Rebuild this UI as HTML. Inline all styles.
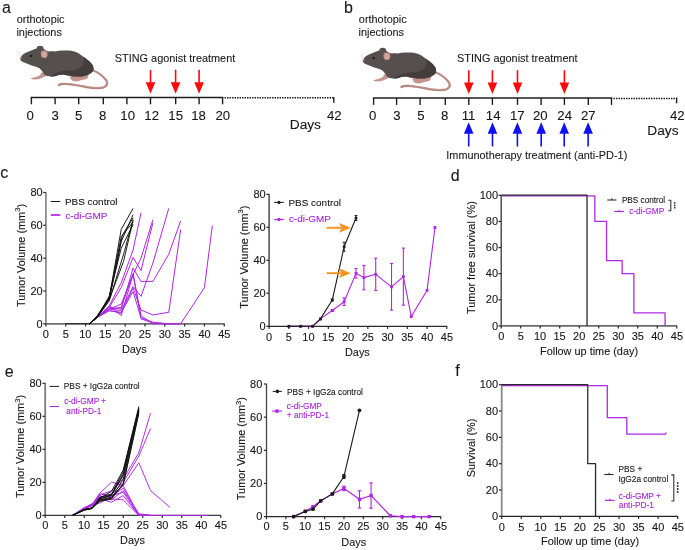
<!DOCTYPE html>
<html><head><meta charset="utf-8"><style>
html,body{margin:0;padding:0;background:#fff;}
body{width:685px;height:550px;overflow:hidden;}
svg{display:block;font-family:"Liberation Sans",sans-serif;will-change:transform;}
</style></head><body>
<svg width="685" height="550" viewBox="0 0 685 550">
<rect width="685" height="550" fill="#fff"/>
<text x="1.92" y="13.1" font-size="16" fill="#1a1a1a" stroke="#1a1a1a" stroke-width="0.1">a</text>
<text x="16.74" y="23" font-size="10.9" fill="#1a1a1a" stroke="#1a1a1a" stroke-width="0.1">orthotopic</text>
<text x="16.46" y="35.6" font-size="10.9" fill="#1a1a1a" stroke="#1a1a1a" stroke-width="0.1">injections</text>
<g transform="translate(0,0)">
<path d="M92.5,70.2 C98,72 103,76 106.4,80.5 C108,83.5 107,86.6 103,87.6 C98,88.5 92,88 85,86.8 C78,85.5 72,84.2 66,83.9 C62,83.8 60,84.2 58.8,85" fill="none" stroke="#b5857e" stroke-width="2.2" stroke-linecap="round"/>
<path d="M93,70.6 C98,72.4 102.6,76.2 105.9,80.6 C107.3,83.4 106.4,86.1 102.9,87.1 C98,87.9 92,87.5 85,86.3 C78,85 72,83.8 66,83.5" fill="none" stroke="#cd9f99" stroke-width="0.6"/>
<path d="M69.5,76.4 C73,76 78,75.8 84,75.6 C86,75.3 87.5,75 88.4,74.8 C88.7,76.5 88,78 86.5,79 C84,79.6 81,79.7 79,80.9 C77,81.6 75,81.5 73,80.9 C71.5,80.1 70,78.5 69.5,76.4 Z" fill="#c4938b"/>
<path d="M41.6,72 C43.5,73 45.2,74 46.8,75.2 C45,76.6 43,77.6 40.5,78.4 C37.5,79.4 34.5,79.9 31.3,79.1 C30.7,78.5 31.4,77.9 32.5,77.7 C35.5,77.2 38,76.4 39.8,75.2 C40.8,74.3 41.3,73.3 41.6,72 Z" fill="#c4938b"/>
<path d="M20.3,58 C21.5,55.5 24,53.5 27,52.3 C30,51 33.5,49.6 36.6,48.6 C36.6,46.8 38.2,45.7 40.2,45.8 C42.3,45.9 43.8,47 43.6,48.8 C45.5,50 47,51.2 48.5,51.6 C51,51.2 53,51.4 55,51.4 C58,50.8 60.5,50.5 63.5,50.6 C67,50.5 70,50.6 72.1,51 C75,51.6 77,52.4 78.9,53.5 C81,55 83,56.3 84.9,57.8 C87,59.5 89.5,61.2 90.9,62.9 C92.5,64.5 93.4,65.8 93.4,67.2 C93.8,68.5 93.6,69.6 93.4,70.6 C92.5,71.8 91.8,72.6 90.9,73.2 C89.8,74 88.7,74.5 87.5,74.9 C85,75.8 83,76.4 80.6,76.6 C77.5,76.6 75,76.4 72.1,76.2 C69,75.8 66,75 63.5,74.5 C60,74.6 57.5,75.4 55,76.2 C52,76.6 49,76.6 47,76 C45.5,75.6 44.5,74.8 43.8,73.8 C42.6,71.5 41.3,69.6 39.5,68.2 C37,67 35.5,66.5 33.5,66 C31,65.3 29.3,64.5 27.3,63.7 C25,62.8 23,62 21.5,61.3 C20.5,60.3 20,59.2 20.3,58 Z" fill="#55504d"/>
<path d="M84.2,57.2 C87,59.5 89.8,61.4 91.2,63.3 C92.8,65.2 93.6,67.8 93.4,70.6 C92.4,72.2 90,74 87.5,74.9 C84,76.2 80,76.6 76,76.4 C72,76.2 68,75.4 63.5,74.5 C60,74.6 57,75.5 55,76.2 L50.5,76.5 C52.5,74.5 55.5,73.2 59,72 C63,70.8 68,70.4 72.5,70.2 C76.5,69.6 79.8,68.4 81.8,66 C83.4,63.6 84.2,60.4 84.2,57.2 Z" fill="#433e3c"/>
<path d="M41.2,51.6 C42.5,50.2 45.5,50.2 47,51.5 C48,53 47.8,55.8 46.6,57.4 C45,58.3 42.6,58.2 41.5,57 C40.8,55.5 40.6,53.2 41.2,51.6 Z" fill="#c4938b"/>
<path d="M42.4,52.6 C43.5,51.8 45.5,52 46.2,53.1 C46.6,54.6 46.2,56.2 45.3,56.9 C44.2,57.3 43,57 42.5,56.2 Z" fill="#d2a7a1"/>
<circle cx="20.7" cy="58.1" r="1" fill="#d49790"/>
<ellipse cx="31" cy="56.1" rx="1.4" ry="1.1" fill="#1b1717"/>
<path d="M20.5,56.5 L17.5,51.5 M20.8,56.2 L19.5,50.8" stroke="#dddddd" stroke-width="0.5"/>
</g>
<text x="114.81" y="62.1" font-size="10.9" fill="#1a1a1a" stroke="#1a1a1a" stroke-width="0.1">STING agonist treatment</text>
<line x1="30.65" y1="97.4" x2="223.35" y2="97.4" stroke="#1e1e1e" stroke-width="1.5"/>
<line x1="31.4" y1="97.4" x2="31.4" y2="104.3" stroke="#1e1e1e" stroke-width="1.4"/>
<line x1="55.1" y1="97.4" x2="55.1" y2="104.3" stroke="#1e1e1e" stroke-width="1.4"/>
<line x1="78.7" y1="97.4" x2="78.7" y2="104.3" stroke="#1e1e1e" stroke-width="1.4"/>
<line x1="103.3" y1="97.4" x2="103.3" y2="104.3" stroke="#1e1e1e" stroke-width="1.4"/>
<line x1="126.9" y1="97.4" x2="126.9" y2="104.3" stroke="#1e1e1e" stroke-width="1.4"/>
<line x1="150.5" y1="97.4" x2="150.5" y2="104.3" stroke="#1e1e1e" stroke-width="1.4"/>
<line x1="175.7" y1="97.4" x2="175.7" y2="104.3" stroke="#1e1e1e" stroke-width="1.4"/>
<line x1="199.1" y1="97.4" x2="199.1" y2="104.3" stroke="#1e1e1e" stroke-width="1.4"/>
<line x1="222.6" y1="97.4" x2="222.6" y2="104.3" stroke="#1e1e1e" stroke-width="1.4"/>
<text x="26.52" y="119.6" font-size="13.2" fill="#161616" stroke="#161616" stroke-width="0.1">0</text>
<text x="51.47" y="119.6" font-size="13.2" fill="#161616" stroke="#161616" stroke-width="0.1">3</text>
<text x="75.04" y="119.6" font-size="13.2" fill="#161616" stroke="#161616" stroke-width="0.1">5</text>
<text x="99.04" y="119.6" font-size="13.2" fill="#161616" stroke="#161616" stroke-width="0.1">8</text>
<text x="120.33" y="119.6" font-size="13.2" fill="#161616" stroke="#161616" stroke-width="0.1">10</text>
<text x="144.31" y="119.6" font-size="13.2" fill="#161616" stroke="#161616" stroke-width="0.1">12</text>
<text x="168.34" y="119.6" font-size="13.2" fill="#161616" stroke="#161616" stroke-width="0.1">15</text>
<text x="191.16" y="119.6" font-size="13.2" fill="#161616" stroke="#161616" stroke-width="0.1">18</text>
<text x="215.49" y="119.6" font-size="13.2" fill="#161616" stroke="#161616" stroke-width="0.1">20</text>
<line x1="224.6" y1="97.8" x2="333.8" y2="97.8" stroke="#111" stroke-width="1.5" stroke-dasharray="1.4 1.1"/>
<line x1="333.8" y1="96.9" x2="333.8" y2="102.7" stroke="#1e1e1e" stroke-width="1.4"/>
<text x="326.9" y="119.7" font-size="13.2" fill="#161616" stroke="#161616" stroke-width="0.1">42</text>
<text x="289.77" y="129.4" font-size="13.7" fill="#161616" stroke="#161616" stroke-width="0.1">Days</text>
<line x1="150.5" y1="69.8" x2="150.5" y2="83.2" stroke="#ff0a0a" stroke-width="1.6"/>
<path d="M145.7,82.2 L155.3,82.2 L150.5,93.8 Z" fill="#ff0a0a"/>
<line x1="175.6" y1="69.8" x2="175.6" y2="83.2" stroke="#ff0a0a" stroke-width="1.6"/>
<path d="M170.8,82.2 L180.4,82.2 L175.6,93.8 Z" fill="#ff0a0a"/>
<line x1="199.1" y1="69.8" x2="199.1" y2="83.2" stroke="#ff0a0a" stroke-width="1.6"/>
<path d="M194.3,82.2 L203.9,82.2 L199.1,93.8 Z" fill="#ff0a0a"/>
<text x="344.06" y="13.1" font-size="16" fill="#1a1a1a" stroke="#1a1a1a" stroke-width="0.1">b</text>
<text x="358.84" y="23.4" font-size="10.9" fill="#1a1a1a" stroke="#1a1a1a" stroke-width="0.1">orthotopic</text>
<text x="358.56" y="35.8" font-size="10.9" fill="#1a1a1a" stroke="#1a1a1a" stroke-width="0.1">injections</text>
<g transform="translate(342.6,2)">
<path d="M92.5,70.2 C98,72 103,76 106.4,80.5 C108,83.5 107,86.6 103,87.6 C98,88.5 92,88 85,86.8 C78,85.5 72,84.2 66,83.9 C62,83.8 60,84.2 58.8,85" fill="none" stroke="#b5857e" stroke-width="2.2" stroke-linecap="round"/>
<path d="M93,70.6 C98,72.4 102.6,76.2 105.9,80.6 C107.3,83.4 106.4,86.1 102.9,87.1 C98,87.9 92,87.5 85,86.3 C78,85 72,83.8 66,83.5" fill="none" stroke="#cd9f99" stroke-width="0.6"/>
<path d="M69.5,76.4 C73,76 78,75.8 84,75.6 C86,75.3 87.5,75 88.4,74.8 C88.7,76.5 88,78 86.5,79 C84,79.6 81,79.7 79,80.9 C77,81.6 75,81.5 73,80.9 C71.5,80.1 70,78.5 69.5,76.4 Z" fill="#c4938b"/>
<path d="M41.6,72 C43.5,73 45.2,74 46.8,75.2 C45,76.6 43,77.6 40.5,78.4 C37.5,79.4 34.5,79.9 31.3,79.1 C30.7,78.5 31.4,77.9 32.5,77.7 C35.5,77.2 38,76.4 39.8,75.2 C40.8,74.3 41.3,73.3 41.6,72 Z" fill="#c4938b"/>
<path d="M20.3,58 C21.5,55.5 24,53.5 27,52.3 C30,51 33.5,49.6 36.6,48.6 C36.6,46.8 38.2,45.7 40.2,45.8 C42.3,45.9 43.8,47 43.6,48.8 C45.5,50 47,51.2 48.5,51.6 C51,51.2 53,51.4 55,51.4 C58,50.8 60.5,50.5 63.5,50.6 C67,50.5 70,50.6 72.1,51 C75,51.6 77,52.4 78.9,53.5 C81,55 83,56.3 84.9,57.8 C87,59.5 89.5,61.2 90.9,62.9 C92.5,64.5 93.4,65.8 93.4,67.2 C93.8,68.5 93.6,69.6 93.4,70.6 C92.5,71.8 91.8,72.6 90.9,73.2 C89.8,74 88.7,74.5 87.5,74.9 C85,75.8 83,76.4 80.6,76.6 C77.5,76.6 75,76.4 72.1,76.2 C69,75.8 66,75 63.5,74.5 C60,74.6 57.5,75.4 55,76.2 C52,76.6 49,76.6 47,76 C45.5,75.6 44.5,74.8 43.8,73.8 C42.6,71.5 41.3,69.6 39.5,68.2 C37,67 35.5,66.5 33.5,66 C31,65.3 29.3,64.5 27.3,63.7 C25,62.8 23,62 21.5,61.3 C20.5,60.3 20,59.2 20.3,58 Z" fill="#55504d"/>
<path d="M84.2,57.2 C87,59.5 89.8,61.4 91.2,63.3 C92.8,65.2 93.6,67.8 93.4,70.6 C92.4,72.2 90,74 87.5,74.9 C84,76.2 80,76.6 76,76.4 C72,76.2 68,75.4 63.5,74.5 C60,74.6 57,75.5 55,76.2 L50.5,76.5 C52.5,74.5 55.5,73.2 59,72 C63,70.8 68,70.4 72.5,70.2 C76.5,69.6 79.8,68.4 81.8,66 C83.4,63.6 84.2,60.4 84.2,57.2 Z" fill="#433e3c"/>
<path d="M41.2,51.6 C42.5,50.2 45.5,50.2 47,51.5 C48,53 47.8,55.8 46.6,57.4 C45,58.3 42.6,58.2 41.5,57 C40.8,55.5 40.6,53.2 41.2,51.6 Z" fill="#c4938b"/>
<path d="M42.4,52.6 C43.5,51.8 45.5,52 46.2,53.1 C46.6,54.6 46.2,56.2 45.3,56.9 C44.2,57.3 43,57 42.5,56.2 Z" fill="#d2a7a1"/>
<circle cx="20.7" cy="58.1" r="1" fill="#d49790"/>
<ellipse cx="31" cy="56.1" rx="1.4" ry="1.1" fill="#1b1717"/>
<path d="M20.5,56.5 L17.5,51.5 M20.8,56.2 L19.5,50.8" stroke="#dddddd" stroke-width="0.5"/>
</g>
<text x="457.11" y="61.8" font-size="10.9" fill="#1a1a1a" stroke="#1a1a1a" stroke-width="0.1">STING agonist treatment</text>
<line x1="372.85" y1="98" x2="612.25" y2="98" stroke="#1e1e1e" stroke-width="1.5"/>
<line x1="373.6" y1="98" x2="373.6" y2="104.9" stroke="#1e1e1e" stroke-width="1.4"/>
<line x1="396.6" y1="98" x2="396.6" y2="104.9" stroke="#1e1e1e" stroke-width="1.4"/>
<line x1="420.1" y1="98" x2="420.1" y2="104.9" stroke="#1e1e1e" stroke-width="1.4"/>
<line x1="445.3" y1="98" x2="445.3" y2="104.9" stroke="#1e1e1e" stroke-width="1.4"/>
<line x1="468.8" y1="98" x2="468.8" y2="104.9" stroke="#1e1e1e" stroke-width="1.4"/>
<line x1="492.4" y1="98" x2="492.4" y2="104.9" stroke="#1e1e1e" stroke-width="1.4"/>
<line x1="517.5" y1="98" x2="517.5" y2="104.9" stroke="#1e1e1e" stroke-width="1.4"/>
<line x1="541.1" y1="98" x2="541.1" y2="104.9" stroke="#1e1e1e" stroke-width="1.4"/>
<line x1="564.4" y1="98" x2="564.4" y2="104.9" stroke="#1e1e1e" stroke-width="1.4"/>
<line x1="588.3" y1="98" x2="588.3" y2="104.9" stroke="#1e1e1e" stroke-width="1.4"/>
<line x1="611.5" y1="98" x2="611.5" y2="104.9" stroke="#1e1e1e" stroke-width="1.4"/>
<text x="369.02" y="119.9" font-size="13.2" fill="#161616" stroke="#161616" stroke-width="0.1">0</text>
<text x="393.37" y="119.9" font-size="13.2" fill="#161616" stroke="#161616" stroke-width="0.1">3</text>
<text x="417.24" y="119.9" font-size="13.2" fill="#161616" stroke="#161616" stroke-width="0.1">5</text>
<text x="441.04" y="119.9" font-size="13.2" fill="#161616" stroke="#161616" stroke-width="0.1">8</text>
<text x="461.77" y="119.9" font-size="13.2" fill="#161616" stroke="#161616" stroke-width="0.1">11</text>
<text x="485.86" y="119.9" font-size="13.2" fill="#161616" stroke="#161616" stroke-width="0.1">14</text>
<text x="510.01" y="119.9" font-size="13.2" fill="#161616" stroke="#161616" stroke-width="0.1">17</text>
<text x="532.89" y="119.9" font-size="13.2" fill="#161616" stroke="#161616" stroke-width="0.1">20</text>
<text x="557.33" y="119.9" font-size="13.2" fill="#161616" stroke="#161616" stroke-width="0.1">24</text>
<text x="580.97" y="119.9" font-size="13.2" fill="#161616" stroke="#161616" stroke-width="0.1">27</text>
<line x1="613.5" y1="98.4" x2="676.6" y2="98.4" stroke="#111" stroke-width="1.5" stroke-dasharray="1.4 1.1"/>
<line x1="676.6" y1="97.5" x2="676.6" y2="103.3" stroke="#1e1e1e" stroke-width="1.4"/>
<text x="669.91" y="120.3" font-size="13.2" fill="#161616" stroke="#161616" stroke-width="0.1">42</text>
<text x="647.37" y="134.7" font-size="13.7" fill="#161616" stroke="#161616" stroke-width="0.1">Days</text>
<line x1="468.8" y1="70.2" x2="468.8" y2="83.4" stroke="#ff0a0a" stroke-width="1.6"/>
<path d="M464,82.4 L473.6,82.4 L468.8,94 Z" fill="#ff0a0a"/>
<line x1="492.4" y1="70.2" x2="492.4" y2="83.4" stroke="#ff0a0a" stroke-width="1.6"/>
<path d="M487.6,82.4 L497.2,82.4 L492.4,94 Z" fill="#ff0a0a"/>
<line x1="517.5" y1="70.2" x2="517.5" y2="83.4" stroke="#ff0a0a" stroke-width="1.6"/>
<path d="M512.7,82.4 L522.3,82.4 L517.5,94 Z" fill="#ff0a0a"/>
<line x1="564.4" y1="70.2" x2="564.4" y2="83.4" stroke="#ff0a0a" stroke-width="1.6"/>
<path d="M559.6,82.4 L569.2,82.4 L564.4,94 Z" fill="#ff0a0a"/>
<line x1="468.7" y1="132.8" x2="468.7" y2="146.5" stroke="#1010f0" stroke-width="1.6"/>
<path d="M463.9,133.8 L473.5,133.8 L468.7,122.2 Z" fill="#1010f0"/>
<line x1="492.5" y1="132.8" x2="492.5" y2="146.5" stroke="#1010f0" stroke-width="1.6"/>
<path d="M487.7,133.8 L497.3,133.8 L492.5,122.2 Z" fill="#1010f0"/>
<line x1="517.4" y1="132.8" x2="517.4" y2="146.5" stroke="#1010f0" stroke-width="1.6"/>
<path d="M512.6,133.8 L522.2,133.8 L517.4,122.2 Z" fill="#1010f0"/>
<line x1="541.2" y1="132.8" x2="541.2" y2="146.5" stroke="#1010f0" stroke-width="1.6"/>
<path d="M536.4,133.8 L546,133.8 L541.2,122.2 Z" fill="#1010f0"/>
<line x1="564.2" y1="132.8" x2="564.2" y2="146.5" stroke="#1010f0" stroke-width="1.6"/>
<path d="M559.4,133.8 L569,133.8 L564.2,122.2 Z" fill="#1010f0"/>
<line x1="588.1" y1="132.8" x2="588.1" y2="146.5" stroke="#1010f0" stroke-width="1.6"/>
<path d="M583.3,133.8 L592.9,133.8 L588.1,122.2 Z" fill="#1010f0"/>
<text x="446.29" y="159" font-size="10.9" fill="#1a1a1a" stroke="#1a1a1a" stroke-width="0.1">Immunotherapy treatment (anti-PD-1)</text>
<text x="0.22" y="178.3" font-size="16" fill="#1a1a1a" stroke="#1a1a1a" stroke-width="0.1">c</text>
<line x1="45.9" y1="192.14" x2="45.9" y2="324.4" stroke="#8c8c8c" stroke-width="1.8"/>
<line x1="45.3" y1="323.8" x2="224.54" y2="323.8" stroke="#707070" stroke-width="1.8"/>
<line x1="43.2" y1="323.8" x2="45.9" y2="323.8" stroke="#2a2a2a" stroke-width="1.2"/>
<text x="36.51" y="327.5" font-size="11" fill="#161616" stroke="#161616" stroke-width="0.1">0</text>
<line x1="43.2" y1="290.96" x2="45.9" y2="290.96" stroke="#2a2a2a" stroke-width="1.2"/>
<text x="30.4" y="294.66" font-size="11" fill="#161616" stroke="#161616" stroke-width="0.1">20</text>
<line x1="43.2" y1="258.12" x2="45.9" y2="258.12" stroke="#2a2a2a" stroke-width="1.2"/>
<text x="30.4" y="261.82" font-size="11" fill="#161616" stroke="#161616" stroke-width="0.1">40</text>
<line x1="43.2" y1="225.28" x2="45.9" y2="225.28" stroke="#2a2a2a" stroke-width="1.2"/>
<text x="30.4" y="228.98" font-size="11" fill="#161616" stroke="#161616" stroke-width="0.1">60</text>
<line x1="43.2" y1="192.44" x2="45.9" y2="192.44" stroke="#2a2a2a" stroke-width="1.2"/>
<text x="30.4" y="196.14" font-size="11" fill="#161616" stroke="#161616" stroke-width="0.1">80</text>
<line x1="45.9" y1="323.8" x2="45.9" y2="326.4" stroke="#2a2a2a" stroke-width="1.2"/>
<text x="42.83" y="338" font-size="11" fill="#161616" stroke="#161616" stroke-width="0.1">0</text>
<line x1="65.72" y1="323.8" x2="65.72" y2="326.4" stroke="#2a2a2a" stroke-width="1.2"/>
<text x="62.66" y="338" font-size="11" fill="#161616" stroke="#161616" stroke-width="0.1">5</text>
<line x1="85.53" y1="323.8" x2="85.53" y2="326.4" stroke="#2a2a2a" stroke-width="1.2"/>
<text x="79.22" y="338" font-size="11" fill="#161616" stroke="#161616" stroke-width="0.1">10</text>
<line x1="105.34" y1="323.8" x2="105.34" y2="326.4" stroke="#2a2a2a" stroke-width="1.2"/>
<text x="99.05" y="338" font-size="11" fill="#161616" stroke="#161616" stroke-width="0.1">15</text>
<line x1="125.16" y1="323.8" x2="125.16" y2="326.4" stroke="#2a2a2a" stroke-width="1.2"/>
<text x="118.99" y="338" font-size="11" fill="#161616" stroke="#161616" stroke-width="0.1">20</text>
<line x1="144.97" y1="323.8" x2="144.97" y2="326.4" stroke="#2a2a2a" stroke-width="1.2"/>
<text x="138.81" y="338" font-size="11" fill="#161616" stroke="#161616" stroke-width="0.1">25</text>
<line x1="164.79" y1="323.8" x2="164.79" y2="326.4" stroke="#2a2a2a" stroke-width="1.2"/>
<text x="158.69" y="338" font-size="11" fill="#161616" stroke="#161616" stroke-width="0.1">30</text>
<line x1="184.61" y1="323.8" x2="184.61" y2="326.4" stroke="#2a2a2a" stroke-width="1.2"/>
<text x="178.51" y="338" font-size="11" fill="#161616" stroke="#161616" stroke-width="0.1">35</text>
<line x1="204.42" y1="323.8" x2="204.42" y2="326.4" stroke="#2a2a2a" stroke-width="1.2"/>
<text x="198.4" y="338" font-size="11" fill="#161616" stroke="#161616" stroke-width="0.1">40</text>
<line x1="224.24" y1="323.8" x2="224.24" y2="326.4" stroke="#2a2a2a" stroke-width="1.2"/>
<text x="218.23" y="338" font-size="11" fill="#161616" stroke="#161616" stroke-width="0.1">45</text>
<line x1="65.72" y1="323.7" x2="89.49" y2="323.7" stroke="#222" stroke-width="1"/>
<polyline points="89.49,323.8 97.42,317.23 109.31,305.74 121.2,282.75 133.09,249.91 141.01,212.8" fill="none" stroke="#b026e6" stroke-width="1" stroke-linejoin="round"/>
<polyline points="89.49,323.8 97.42,317.23 109.31,309.02 121.2,304.1 133.09,274.54 141.01,258.12 152.9,219.7" fill="none" stroke="#b026e6" stroke-width="1" stroke-linejoin="round"/>
<polyline points="89.49,323.8 97.42,317.23 109.31,307.38 121.2,287.68 133.09,257.46 141.01,270.6 152.9,222.82" fill="none" stroke="#b026e6" stroke-width="1" stroke-linejoin="round"/>
<polyline points="89.49,323.8 97.42,317.23 109.31,309.02 121.2,310.66 133.09,286.53 141.01,296.38 152.9,263.05 168.75,208.37" fill="none" stroke="#b026e6" stroke-width="1" stroke-linejoin="round"/>
<polyline points="89.49,323.8 97.42,317.23 109.31,307.38 121.2,309.02 133.09,267.97 141.01,281.44 152.9,281.44 168.75,254.18 180.64,221.01" fill="none" stroke="#b026e6" stroke-width="1" stroke-linejoin="round"/>
<polyline points="89.49,323.8 97.42,317.23 109.31,310.66 121.2,313.13 133.09,288 141.01,310.01 152.9,314.93 168.75,312.31 180.64,229.55" fill="none" stroke="#b026e6" stroke-width="1" stroke-linejoin="round"/>
<polyline points="89.49,323.8 97.42,317.23 109.31,310.66 121.2,312.31 133.09,291.62 141.01,317.89 152.9,322.16 168.75,323.8 180.64,323.8 188.57,311.76 204.42,287.68 212.35,225.61" fill="none" stroke="#b026e6" stroke-width="1" stroke-linejoin="round"/>
<polyline points="89.49,323.8 97.42,317.23 109.31,309.02 121.2,307.38 133.09,273.72 141.01,315.59 152.9,323.8 168.75,323.8 180.64,323.8" fill="none" stroke="#b026e6" stroke-width="1" stroke-linejoin="round"/>
<polyline points="89.49,323.8 97.42,317.23 109.31,305.74 121.2,315.59 133.09,274.54 141.01,318.87 152.9,322.98 168.75,323.8" fill="none" stroke="#b026e6" stroke-width="1" stroke-linejoin="round"/>
<polyline points="89.49,323.8 97.42,317.23 109.31,297.53 121.2,229.39 133.09,208.37" fill="none" stroke="#111" stroke-width="0.95" stroke-linejoin="round"/>
<polyline points="89.49,323.8 97.42,316.41 109.31,299.17 121.2,241.7 133.09,214.61" fill="none" stroke="#111" stroke-width="0.95" stroke-linejoin="round"/>
<polyline points="89.49,323.8 97.42,317.23 109.31,300.81 124.37,251.55 133.09,219.53" fill="none" stroke="#111" stroke-width="0.95" stroke-linejoin="round"/>
<polyline points="89.49,323.8 97.42,315.59 109.31,297.53 121.2,236.77 133.09,222" fill="none" stroke="#111" stroke-width="0.95" stroke-linejoin="round"/>
<polyline points="89.49,323.8 97.42,316.41 109.31,299.17 123.57,261.4 133.09,220.35" fill="none" stroke="#111" stroke-width="0.95" stroke-linejoin="round"/>
<polyline points="89.49,323.8 97.42,317.23 109.31,295.89 121.2,248.27 133.09,224.46" fill="none" stroke="#111" stroke-width="0.95" stroke-linejoin="round"/>
<polyline points="89.49,323.8 97.42,315.59 109.31,298.35 122.39,235.13 133.09,217.89" fill="none" stroke="#111" stroke-width="0.95" stroke-linejoin="round"/>
<line x1="50.8" y1="201.5" x2="60.3" y2="201.5" stroke="#1a1a1a" stroke-width="1"/>
<text x="64.98" y="204.9" font-size="9.95" fill="#161616" stroke="#161616" stroke-width="0.1">PBS control</text>
<line x1="50.8" y1="215" x2="60.3" y2="215" stroke="#b026e6" stroke-width="1.7"/>
<text x="65.38" y="218.6" font-size="9.95" fill="#a61ee0" stroke="#a61ee0" stroke-width="0.1">c-di-GMP</text>
<text x="121.9" y="353.2" font-size="10.9" fill="#161616" stroke="#161616" stroke-width="0.1">Days</text>
<text transform="translate(24.6,255.5) rotate(-90)" font-size="10.9" fill="#161616" stroke="#161616" stroke-width="0.1" text-anchor="middle">Tumor Volume (mm<tspan font-size="7.63" dy="-4.36">3</tspan><tspan dy="4.36">)</tspan></text>
<line x1="269.1" y1="194" x2="269.1" y2="326.9" stroke="#3c3c3c" stroke-width="1.4"/>
<line x1="268.5" y1="326.3" x2="447.11" y2="326.3" stroke="#2a2a2a" stroke-width="1.3"/>
<line x1="266.4" y1="326.3" x2="269.1" y2="326.3" stroke="#2a2a2a" stroke-width="1.2"/>
<text x="259.61" y="330" font-size="11" fill="#161616" stroke="#161616" stroke-width="0.1">0</text>
<line x1="266.4" y1="293.3" x2="269.1" y2="293.3" stroke="#2a2a2a" stroke-width="1.2"/>
<text x="253.5" y="297" font-size="11" fill="#161616" stroke="#161616" stroke-width="0.1">20</text>
<line x1="266.4" y1="260.3" x2="269.1" y2="260.3" stroke="#2a2a2a" stroke-width="1.2"/>
<text x="253.5" y="264" font-size="11" fill="#161616" stroke="#161616" stroke-width="0.1">40</text>
<line x1="266.4" y1="227.3" x2="269.1" y2="227.3" stroke="#2a2a2a" stroke-width="1.2"/>
<text x="253.5" y="231" font-size="11" fill="#161616" stroke="#161616" stroke-width="0.1">60</text>
<line x1="266.4" y1="194.3" x2="269.1" y2="194.3" stroke="#2a2a2a" stroke-width="1.2"/>
<text x="253.5" y="198" font-size="11" fill="#161616" stroke="#161616" stroke-width="0.1">80</text>
<line x1="269.1" y1="326.3" x2="269.1" y2="328.9" stroke="#2a2a2a" stroke-width="1.2"/>
<text x="266.03" y="340.5" font-size="11" fill="#161616" stroke="#161616" stroke-width="0.1">0</text>
<line x1="288.85" y1="326.3" x2="288.85" y2="328.9" stroke="#2a2a2a" stroke-width="1.2"/>
<text x="285.79" y="340.5" font-size="11" fill="#161616" stroke="#161616" stroke-width="0.1">5</text>
<line x1="308.59" y1="326.3" x2="308.59" y2="328.9" stroke="#2a2a2a" stroke-width="1.2"/>
<text x="302.28" y="340.5" font-size="11" fill="#161616" stroke="#161616" stroke-width="0.1">10</text>
<line x1="328.34" y1="326.3" x2="328.34" y2="328.9" stroke="#2a2a2a" stroke-width="1.2"/>
<text x="322.04" y="340.5" font-size="11" fill="#161616" stroke="#161616" stroke-width="0.1">15</text>
<line x1="348.08" y1="326.3" x2="348.08" y2="328.9" stroke="#2a2a2a" stroke-width="1.2"/>
<text x="341.91" y="340.5" font-size="11" fill="#161616" stroke="#161616" stroke-width="0.1">20</text>
<line x1="367.83" y1="326.3" x2="367.83" y2="328.9" stroke="#2a2a2a" stroke-width="1.2"/>
<text x="361.67" y="340.5" font-size="11" fill="#161616" stroke="#161616" stroke-width="0.1">25</text>
<line x1="387.57" y1="326.3" x2="387.57" y2="328.9" stroke="#2a2a2a" stroke-width="1.2"/>
<text x="381.47" y="340.5" font-size="11" fill="#161616" stroke="#161616" stroke-width="0.1">30</text>
<line x1="407.32" y1="326.3" x2="407.32" y2="328.9" stroke="#2a2a2a" stroke-width="1.2"/>
<text x="401.22" y="340.5" font-size="11" fill="#161616" stroke="#161616" stroke-width="0.1">35</text>
<line x1="427.06" y1="326.3" x2="427.06" y2="328.9" stroke="#2a2a2a" stroke-width="1.2"/>
<text x="421.04" y="340.5" font-size="11" fill="#161616" stroke="#161616" stroke-width="0.1">40</text>
<line x1="446.81" y1="326.3" x2="446.81" y2="328.9" stroke="#2a2a2a" stroke-width="1.2"/>
<text x="440.8" y="340.5" font-size="11" fill="#161616" stroke="#161616" stroke-width="0.1">45</text>
<polyline points="288.85,326.3 300.69,326.3 312.54,326.3 320.44,318.88 332.28,310.46 344.13,301.72 355.98,273.34 363.88,277.62 375.72,274.33 391.52,286.87 403.37,276.63 411.26,316.56 427.06,290.33 434.96,227.47" fill="none" stroke="#b026e6" stroke-width="1.1" stroke-linejoin="round"/>
<rect x="287.45" y="324.9" width="2.8" height="2.8" fill="#b026e6"/>
<rect x="299.29" y="324.9" width="2.8" height="2.8" fill="#b026e6"/>
<rect x="311.14" y="324.9" width="2.8" height="2.8" fill="#b026e6"/>
<rect x="319.04" y="317.48" width="2.8" height="2.8" fill="#b026e6"/>
<line x1="332.28" y1="311.29" x2="332.28" y2="309.63" stroke="#b026e6" stroke-width="1.1"/>
<line x1="330.68" y1="311.29" x2="333.88" y2="311.29" stroke="#b026e6" stroke-width="1.1"/>
<line x1="330.68" y1="309.63" x2="333.88" y2="309.63" stroke="#b026e6" stroke-width="1.1"/>
<rect x="330.88" y="309.06" width="2.8" height="2.8" fill="#b026e6"/>
<line x1="344.13" y1="305.51" x2="344.13" y2="297.92" stroke="#b026e6" stroke-width="1.1"/>
<line x1="342.53" y1="305.51" x2="345.73" y2="305.51" stroke="#b026e6" stroke-width="1.1"/>
<line x1="342.53" y1="297.92" x2="345.73" y2="297.92" stroke="#b026e6" stroke-width="1.1"/>
<rect x="342.73" y="300.32" width="2.8" height="2.8" fill="#b026e6"/>
<line x1="355.98" y1="278.12" x2="355.98" y2="268.55" stroke="#b026e6" stroke-width="1.1"/>
<line x1="354.38" y1="278.12" x2="357.58" y2="278.12" stroke="#b026e6" stroke-width="1.1"/>
<line x1="354.38" y1="268.55" x2="357.58" y2="268.55" stroke="#b026e6" stroke-width="1.1"/>
<rect x="354.58" y="271.94" width="2.8" height="2.8" fill="#b026e6"/>
<line x1="363.88" y1="289.84" x2="363.88" y2="265.42" stroke="#b026e6" stroke-width="1.1"/>
<line x1="362.28" y1="289.84" x2="365.48" y2="289.84" stroke="#b026e6" stroke-width="1.1"/>
<line x1="362.28" y1="265.42" x2="365.48" y2="265.42" stroke="#b026e6" stroke-width="1.1"/>
<rect x="362.48" y="276.23" width="2.8" height="2.8" fill="#b026e6"/>
<line x1="375.72" y1="290.5" x2="375.72" y2="258.16" stroke="#b026e6" stroke-width="1.1"/>
<line x1="374.12" y1="290.5" x2="377.32" y2="290.5" stroke="#b026e6" stroke-width="1.1"/>
<line x1="374.12" y1="258.16" x2="377.32" y2="258.16" stroke="#b026e6" stroke-width="1.1"/>
<rect x="374.32" y="272.93" width="2.8" height="2.8" fill="#b026e6"/>
<line x1="391.52" y1="310.13" x2="391.52" y2="263.6" stroke="#b026e6" stroke-width="1.1"/>
<line x1="389.92" y1="310.13" x2="393.12" y2="310.13" stroke="#b026e6" stroke-width="1.1"/>
<line x1="389.92" y1="263.6" x2="393.12" y2="263.6" stroke="#b026e6" stroke-width="1.1"/>
<rect x="390.12" y="285.47" width="2.8" height="2.8" fill="#b026e6"/>
<line x1="403.37" y1="305.18" x2="403.37" y2="248.09" stroke="#b026e6" stroke-width="1.1"/>
<line x1="401.77" y1="305.18" x2="404.97" y2="305.18" stroke="#b026e6" stroke-width="1.1"/>
<line x1="401.77" y1="248.09" x2="404.97" y2="248.09" stroke="#b026e6" stroke-width="1.1"/>
<rect x="401.97" y="275.24" width="2.8" height="2.8" fill="#b026e6"/>
<rect x="409.86" y="315.17" width="2.8" height="2.8" fill="#b026e6"/>
<rect x="425.66" y="288.93" width="2.8" height="2.8" fill="#b026e6"/>
<rect x="433.56" y="226.07" width="2.8" height="2.8" fill="#b026e6"/>
<polyline points="288.85,326.3 300.69,326.3 312.54,326.3 320.44,318.88 332.28,300.06 344.13,246.77 355.98,218.06" fill="none" stroke="#1a1a1a" stroke-width="1.1" stroke-linejoin="round"/>
<circle cx="288.85" cy="326.3" r="1.5" fill="#1a1a1a"/>
<circle cx="300.69" cy="326.3" r="1.5" fill="#1a1a1a"/>
<circle cx="312.54" cy="326.3" r="1.5" fill="#1a1a1a"/>
<circle cx="320.44" cy="318.88" r="1.5" fill="#1a1a1a"/>
<line x1="332.28" y1="301.06" x2="332.28" y2="299.07" stroke="#1a1a1a" stroke-width="1"/>
<line x1="330.88" y1="301.06" x2="333.68" y2="301.06" stroke="#1a1a1a" stroke-width="1"/>
<line x1="330.88" y1="299.07" x2="333.68" y2="299.07" stroke="#1a1a1a" stroke-width="1"/>
<circle cx="332.28" cy="300.06" r="1.5" fill="#1a1a1a"/>
<line x1="344.13" y1="251.23" x2="344.13" y2="242.31" stroke="#1a1a1a" stroke-width="1"/>
<line x1="342.73" y1="251.23" x2="345.53" y2="251.23" stroke="#1a1a1a" stroke-width="1"/>
<line x1="342.73" y1="242.31" x2="345.53" y2="242.31" stroke="#1a1a1a" stroke-width="1"/>
<circle cx="344.13" cy="246.77" r="1.5" fill="#1a1a1a"/>
<line x1="355.98" y1="220.54" x2="355.98" y2="215.59" stroke="#1a1a1a" stroke-width="1"/>
<line x1="354.58" y1="220.54" x2="357.38" y2="220.54" stroke="#1a1a1a" stroke-width="1"/>
<line x1="354.58" y1="215.59" x2="357.38" y2="215.59" stroke="#1a1a1a" stroke-width="1"/>
<circle cx="355.98" cy="218.06" r="1.5" fill="#1a1a1a"/>
<line x1="274.1" y1="202.4" x2="283.8" y2="202.4" stroke="#1a1a1a" stroke-width="1"/>
<circle cx="279" cy="202.4" r="1.6" fill="#1a1a1a"/>
<text x="288.48" y="205.8" font-size="9.95" fill="#161616" stroke="#161616" stroke-width="0.1">PBS control</text>
<line x1="274.1" y1="219.5" x2="283.8" y2="219.5" stroke="#b026e6" stroke-width="1.2"/>
<circle cx="279" cy="219.5" r="1.7" fill="#b026e6"/>
<text x="288.88" y="222.1" font-size="9.95" fill="#a61ee0" stroke="#a61ee0" stroke-width="0.1">c-di-GMP</text>
<text x="345" y="356" font-size="10.9" fill="#161616" stroke="#161616" stroke-width="0.1">Days</text>
<text transform="translate(247.5,257.1) rotate(-90)" font-size="10.9" fill="#161616" stroke="#161616" stroke-width="0.1" text-anchor="middle">Tumor Volume (mm<tspan font-size="7.63" dy="-4.36">3</tspan><tspan dy="4.36">)</tspan></text>
<line x1="326.6" y1="227.8" x2="341" y2="227.8" stroke="#f7931e" stroke-width="1.9"/>
<path d="M339,222.9 L350.8,227.8 L339,232.7 L341.5,227.8 Z" fill="#f7931e"/>
<line x1="326.6" y1="273.2" x2="341" y2="273.2" stroke="#f7931e" stroke-width="1.9"/>
<path d="M339,268.3 L350.8,273.2 L339,278.1 L341.5,273.2 Z" fill="#f7931e"/>
<text x="450.82" y="180.8" font-size="16" fill="#1a1a1a" stroke="#1a1a1a" stroke-width="0.1">d</text>
<line x1="501.2" y1="195" x2="501.2" y2="326.5" stroke="#444" stroke-width="1.4"/>
<line x1="500.6" y1="325.9" x2="677.09" y2="325.9" stroke="#6a6a6a" stroke-width="1.8"/>
<line x1="498.5" y1="325.9" x2="501.2" y2="325.9" stroke="#2a2a2a" stroke-width="1.2"/>
<text x="491.91" y="329.6" font-size="11" fill="#161616" stroke="#161616" stroke-width="0.1">0</text>
<line x1="498.5" y1="299.78" x2="501.2" y2="299.78" stroke="#2a2a2a" stroke-width="1.2"/>
<text x="485.8" y="303.48" font-size="11" fill="#161616" stroke="#161616" stroke-width="0.1">20</text>
<line x1="498.5" y1="273.66" x2="501.2" y2="273.66" stroke="#2a2a2a" stroke-width="1.2"/>
<text x="485.8" y="277.36" font-size="11" fill="#161616" stroke="#161616" stroke-width="0.1">40</text>
<line x1="498.5" y1="247.54" x2="501.2" y2="247.54" stroke="#2a2a2a" stroke-width="1.2"/>
<text x="485.8" y="251.24" font-size="11" fill="#161616" stroke="#161616" stroke-width="0.1">60</text>
<line x1="498.5" y1="221.42" x2="501.2" y2="221.42" stroke="#2a2a2a" stroke-width="1.2"/>
<text x="485.8" y="225.12" font-size="11" fill="#161616" stroke="#161616" stroke-width="0.1">80</text>
<line x1="498.5" y1="195.3" x2="501.2" y2="195.3" stroke="#2a2a2a" stroke-width="1.2"/>
<text x="479.67" y="199" font-size="11" fill="#161616" stroke="#161616" stroke-width="0.1">100</text>
<line x1="501.2" y1="325.9" x2="501.2" y2="328.5" stroke="#2a2a2a" stroke-width="1.2"/>
<text x="498.13" y="339.9" font-size="11" fill="#161616" stroke="#161616" stroke-width="0.1">0</text>
<line x1="520.71" y1="325.9" x2="520.71" y2="328.5" stroke="#2a2a2a" stroke-width="1.2"/>
<text x="517.66" y="339.9" font-size="11" fill="#161616" stroke="#161616" stroke-width="0.1">5</text>
<line x1="540.22" y1="325.9" x2="540.22" y2="328.5" stroke="#2a2a2a" stroke-width="1.2"/>
<text x="533.91" y="339.9" font-size="11" fill="#161616" stroke="#161616" stroke-width="0.1">10</text>
<line x1="559.73" y1="325.9" x2="559.73" y2="328.5" stroke="#2a2a2a" stroke-width="1.2"/>
<text x="553.43" y="339.9" font-size="11" fill="#161616" stroke="#161616" stroke-width="0.1">15</text>
<line x1="579.24" y1="325.9" x2="579.24" y2="328.5" stroke="#2a2a2a" stroke-width="1.2"/>
<text x="573.07" y="339.9" font-size="11" fill="#161616" stroke="#161616" stroke-width="0.1">20</text>
<line x1="598.75" y1="325.9" x2="598.75" y2="328.5" stroke="#2a2a2a" stroke-width="1.2"/>
<text x="592.59" y="339.9" font-size="11" fill="#161616" stroke="#161616" stroke-width="0.1">25</text>
<line x1="618.26" y1="325.9" x2="618.26" y2="328.5" stroke="#2a2a2a" stroke-width="1.2"/>
<text x="612.15" y="339.9" font-size="11" fill="#161616" stroke="#161616" stroke-width="0.1">30</text>
<line x1="637.77" y1="325.9" x2="637.77" y2="328.5" stroke="#2a2a2a" stroke-width="1.2"/>
<text x="631.68" y="339.9" font-size="11" fill="#161616" stroke="#161616" stroke-width="0.1">35</text>
<line x1="657.28" y1="325.9" x2="657.28" y2="328.5" stroke="#2a2a2a" stroke-width="1.2"/>
<text x="651.26" y="339.9" font-size="11" fill="#161616" stroke="#161616" stroke-width="0.1">40</text>
<line x1="676.79" y1="325.9" x2="676.79" y2="328.5" stroke="#2a2a2a" stroke-width="1.2"/>
<text x="670.78" y="339.9" font-size="11" fill="#161616" stroke="#161616" stroke-width="0.1">45</text>
<polyline points="501.2,195.9 594.85,195.9 594.85,221.42 606.55,221.42 606.55,260.6 622.16,260.6 622.16,273.66 633.87,273.66 633.87,312.84 665.08,312.84 665.08,325.9" fill="none" stroke="#b026e6" stroke-width="1.3" stroke-linejoin="round" stroke-linejoin="miter"/>
<polyline points="501.2,195.2 587.04,195.2 587.04,325.9" fill="none" stroke="#2a2a2a" stroke-width="1.3" stroke-linejoin="round" stroke-linejoin="miter"/>
<line x1="607.3" y1="200" x2="616.4" y2="200" stroke="#2a2a2a" stroke-width="1.1"/>
<line x1="611.8" y1="198.3" x2="611.8" y2="200" stroke="#2a2a2a" stroke-width="1"/>
<text x="621.92" y="203.2" font-size="8.2" fill="#161616" stroke="#161616" stroke-width="0.1">PBS control</text>
<line x1="614.3" y1="211.5" x2="624" y2="211.5" stroke="#b026e6" stroke-width="1.2"/>
<line x1="619.1" y1="209.8" x2="619.1" y2="211.5" stroke="#b026e6" stroke-width="1"/>
<text x="629.15" y="214.3" font-size="8.3" fill="#a61ee0" stroke="#a61ee0" stroke-width="0.1">c-di-GMP</text>
<polyline points="668.3,200.2 670.8,200.2 670.8,210.8 668.3,210.8" fill="none" stroke="#333" stroke-width="1.1" stroke-linejoin="round" stroke-linejoin="miter"/>
<ellipse cx="674.7" cy="202.9" rx="0.8" ry="0.9" fill="#222"/>
<ellipse cx="674.7" cy="205.3" rx="0.8" ry="0.9" fill="#222"/>
<ellipse cx="674.7" cy="207.7" rx="0.8" ry="0.9" fill="#222"/>
<text x="540" y="355" font-size="10.9" fill="#161616" stroke="#161616" stroke-width="0.1">Follow up time (day)</text>
<text transform="translate(474.6,257.6) rotate(-90)" font-size="10.9" fill="#161616" stroke="#161616" stroke-width="0.1" text-anchor="middle">Tumor free survival (%)</text>
<text x="4.82" y="376.6" font-size="16" fill="#1a1a1a" stroke="#1a1a1a" stroke-width="0.1">e</text>
<line x1="45.2" y1="383.02" x2="45.2" y2="516" stroke="#7c7c7c" stroke-width="1.8"/>
<line x1="44.6" y1="515.4" x2="221.09" y2="515.4" stroke="#3a3a3a" stroke-width="1.3"/>
<line x1="42.5" y1="515.4" x2="45.2" y2="515.4" stroke="#2a2a2a" stroke-width="1.2"/>
<text x="35.61" y="519.1" font-size="11" fill="#161616" stroke="#161616" stroke-width="0.1">0</text>
<line x1="42.5" y1="482.38" x2="45.2" y2="482.38" stroke="#2a2a2a" stroke-width="1.2"/>
<text x="29.5" y="486.08" font-size="11" fill="#161616" stroke="#161616" stroke-width="0.1">20</text>
<line x1="42.5" y1="449.36" x2="45.2" y2="449.36" stroke="#2a2a2a" stroke-width="1.2"/>
<text x="29.5" y="453.06" font-size="11" fill="#161616" stroke="#161616" stroke-width="0.1">40</text>
<line x1="42.5" y1="416.34" x2="45.2" y2="416.34" stroke="#2a2a2a" stroke-width="1.2"/>
<text x="29.5" y="420.04" font-size="11" fill="#161616" stroke="#161616" stroke-width="0.1">60</text>
<line x1="42.5" y1="383.32" x2="45.2" y2="383.32" stroke="#2a2a2a" stroke-width="1.2"/>
<text x="29.5" y="387.02" font-size="11" fill="#161616" stroke="#161616" stroke-width="0.1">80</text>
<line x1="45.2" y1="515.4" x2="45.2" y2="518" stroke="#2a2a2a" stroke-width="1.2"/>
<text x="42.13" y="529.3" font-size="11" fill="#161616" stroke="#161616" stroke-width="0.1">0</text>
<line x1="64.71" y1="515.4" x2="64.71" y2="518" stroke="#2a2a2a" stroke-width="1.2"/>
<text x="61.66" y="529.3" font-size="11" fill="#161616" stroke="#161616" stroke-width="0.1">5</text>
<line x1="84.22" y1="515.4" x2="84.22" y2="518" stroke="#2a2a2a" stroke-width="1.2"/>
<text x="77.91" y="529.3" font-size="11" fill="#161616" stroke="#161616" stroke-width="0.1">10</text>
<line x1="103.73" y1="515.4" x2="103.73" y2="518" stroke="#2a2a2a" stroke-width="1.2"/>
<text x="97.43" y="529.3" font-size="11" fill="#161616" stroke="#161616" stroke-width="0.1">15</text>
<line x1="123.24" y1="515.4" x2="123.24" y2="518" stroke="#2a2a2a" stroke-width="1.2"/>
<text x="117.07" y="529.3" font-size="11" fill="#161616" stroke="#161616" stroke-width="0.1">20</text>
<line x1="142.75" y1="515.4" x2="142.75" y2="518" stroke="#2a2a2a" stroke-width="1.2"/>
<text x="136.59" y="529.3" font-size="11" fill="#161616" stroke="#161616" stroke-width="0.1">25</text>
<line x1="162.26" y1="515.4" x2="162.26" y2="518" stroke="#2a2a2a" stroke-width="1.2"/>
<text x="156.16" y="529.3" font-size="11" fill="#161616" stroke="#161616" stroke-width="0.1">30</text>
<line x1="181.77" y1="515.4" x2="181.77" y2="518" stroke="#2a2a2a" stroke-width="1.2"/>
<text x="175.68" y="529.3" font-size="11" fill="#161616" stroke="#161616" stroke-width="0.1">35</text>
<line x1="201.28" y1="515.4" x2="201.28" y2="518" stroke="#2a2a2a" stroke-width="1.2"/>
<text x="195.26" y="529.3" font-size="11" fill="#161616" stroke="#161616" stroke-width="0.1">40</text>
<line x1="220.79" y1="515.4" x2="220.79" y2="518" stroke="#2a2a2a" stroke-width="1.2"/>
<text x="214.78" y="529.3" font-size="11" fill="#161616" stroke="#161616" stroke-width="0.1">45</text>
<polyline points="72.51,515.4 84.22,508.47 92.02,504.67 99.83,493.11 111.53,482.05 123.24,485.68 138.85,515.4 150.55,515.4 170.06,515.4 181.77,515.4 193.48,515.4 209.08,515.4" fill="none" stroke="#b026e6" stroke-width="0.95" stroke-linejoin="round"/>
<polyline points="72.51,515.4 84.22,508.8 92.02,505.49 99.83,494.93 111.53,490.8 123.24,479.08 138.85,452.66 150.55,413.04" fill="none" stroke="#b026e6" stroke-width="0.95" stroke-linejoin="round"/>
<polyline points="72.51,515.4 84.22,507.97 92.02,503.84 99.83,497.57 111.53,494.43 123.24,482.38 138.85,455.96 150.55,428.56" fill="none" stroke="#b026e6" stroke-width="0.95" stroke-linejoin="round"/>
<polyline points="72.51,515.4 84.22,508.8 92.02,505.49 99.83,503.02 111.53,496.25 123.24,485.68 138.85,462.73 150.55,490.63 170.06,507.48" fill="none" stroke="#b026e6" stroke-width="0.95" stroke-linejoin="round"/>
<polyline points="72.51,515.4 84.22,508.96 92.02,504.67 99.83,495.59 111.53,499.88 123.24,490.63 138.85,513.75 150.55,515.4" fill="none" stroke="#b026e6" stroke-width="0.95" stroke-linejoin="round"/>
<polyline points="72.51,515.4 84.22,508.3 92.02,505.49 99.83,498.89 111.53,502.19 123.24,495.59 138.85,515.4 150.55,515.4" fill="none" stroke="#b026e6" stroke-width="0.95" stroke-linejoin="round"/>
<polyline points="72.51,515.4 84.22,508.63 92.02,503.84 99.83,497.24 111.53,496.25 123.24,488.16 138.85,514.57 150.55,515.4" fill="none" stroke="#b026e6" stroke-width="0.95" stroke-linejoin="round"/>
<polyline points="72.51,515.4 84.22,507.64 92.02,504.67 99.83,493.94 111.53,495.59 123.24,492.29 138.85,515.4 150.55,515.4" fill="none" stroke="#b026e6" stroke-width="0.95" stroke-linejoin="round"/>
<polyline points="72.51,515.4 84.22,508.8 92.02,505.49 99.83,500.54 111.53,498.89 123.24,499.88 138.85,515.4 150.55,515.4" fill="none" stroke="#b026e6" stroke-width="0.95" stroke-linejoin="round"/>
<polyline points="72.51,515.4 84.22,509.95 92.02,508.3 99.83,498.06 111.53,491.3 123.24,470 138.85,406.43" fill="none" stroke="#111" stroke-width="0.95" stroke-linejoin="round"/>
<polyline points="72.51,515.4 84.22,509.62 92.02,507.97 99.83,498.89 111.53,495.42 123.24,474.12 138.85,408.91" fill="none" stroke="#111" stroke-width="0.95" stroke-linejoin="round"/>
<polyline points="72.51,515.4 84.22,510.12 92.02,508.63 99.83,500.54 111.53,498.23 123.24,479.08 138.85,410.56" fill="none" stroke="#111" stroke-width="0.95" stroke-linejoin="round"/>
<polyline points="72.51,515.4 84.22,509.79 92.02,507.81 99.83,501.37 111.53,499.06 123.24,483.54 138.85,412.21" fill="none" stroke="#111" stroke-width="0.95" stroke-linejoin="round"/>
<polyline points="72.51,515.4 84.22,509.95 92.02,508.14 99.83,499.72 111.53,497.24 123.24,484.86 138.85,413.04" fill="none" stroke="#111" stroke-width="0.95" stroke-linejoin="round"/>
<polyline points="72.51,515.4 84.22,509.46 92.02,508.47 99.83,497.24 111.53,493.94 123.24,471.65 138.85,408.08" fill="none" stroke="#111" stroke-width="0.95" stroke-linejoin="round"/>
<polyline points="72.51,515.4 84.22,509.79 92.02,507.97 99.83,498.89 111.53,494.76 123.24,475.78 138.85,410.56" fill="none" stroke="#111" stroke-width="0.95" stroke-linejoin="round"/>
<line x1="49.5" y1="386.4" x2="59" y2="386.4" stroke="#1a1a1a" stroke-width="1"/>
<text x="63.82" y="389.2" font-size="8.3" fill="#161616" stroke="#161616" stroke-width="0.1">PBS + IgG2a control</text>
<line x1="49.5" y1="406.5" x2="59" y2="406.5" stroke="#b026e6" stroke-width="1"/>
<text x="64.15" y="404.2" font-size="8.3" fill="#a61ee0" stroke="#a61ee0" stroke-width="0.1">c-di-GMP +</text>
<text x="66.35" y="413.7" font-size="8.3" fill="#a61ee0" stroke="#a61ee0" stroke-width="0.1">anti-PD-1</text>
<text x="120.1" y="544.3" font-size="10.9" fill="#161616" stroke="#161616" stroke-width="0.1">Days</text>
<text transform="translate(24.1,446.5) rotate(-90)" font-size="10.9" fill="#161616" stroke="#161616" stroke-width="0.1" text-anchor="middle">Tumor Volume (mm<tspan font-size="7.63" dy="-4.36">3</tspan><tspan dy="4.36">)</tspan></text>
<line x1="266.5" y1="383.7" x2="266.5" y2="517.2" stroke="#444" stroke-width="1.3"/>
<line x1="265.9" y1="516.6" x2="441.08" y2="516.6" stroke="#2a2a2a" stroke-width="1.3"/>
<line x1="263.8" y1="516.6" x2="266.5" y2="516.6" stroke="#2a2a2a" stroke-width="1.2"/>
<text x="256.21" y="520.3" font-size="11" fill="#161616" stroke="#161616" stroke-width="0.1">0</text>
<line x1="263.8" y1="483.45" x2="266.5" y2="483.45" stroke="#2a2a2a" stroke-width="1.2"/>
<text x="250.1" y="487.15" font-size="11" fill="#161616" stroke="#161616" stroke-width="0.1">20</text>
<line x1="263.8" y1="450.3" x2="266.5" y2="450.3" stroke="#2a2a2a" stroke-width="1.2"/>
<text x="250.1" y="454" font-size="11" fill="#161616" stroke="#161616" stroke-width="0.1">40</text>
<line x1="263.8" y1="417.15" x2="266.5" y2="417.15" stroke="#2a2a2a" stroke-width="1.2"/>
<text x="250.1" y="420.85" font-size="11" fill="#161616" stroke="#161616" stroke-width="0.1">60</text>
<line x1="263.8" y1="384" x2="266.5" y2="384" stroke="#2a2a2a" stroke-width="1.2"/>
<text x="250.1" y="387.7" font-size="11" fill="#161616" stroke="#161616" stroke-width="0.1">80</text>
<line x1="266.5" y1="516.6" x2="266.5" y2="519.2" stroke="#2a2a2a" stroke-width="1.2"/>
<text x="263.43" y="530.4" font-size="11" fill="#161616" stroke="#161616" stroke-width="0.1">0</text>
<line x1="285.87" y1="516.6" x2="285.87" y2="519.2" stroke="#2a2a2a" stroke-width="1.2"/>
<text x="282.81" y="530.4" font-size="11" fill="#161616" stroke="#161616" stroke-width="0.1">5</text>
<line x1="305.23" y1="516.6" x2="305.23" y2="519.2" stroke="#2a2a2a" stroke-width="1.2"/>
<text x="298.92" y="530.4" font-size="11" fill="#161616" stroke="#161616" stroke-width="0.1">10</text>
<line x1="324.6" y1="516.6" x2="324.6" y2="519.2" stroke="#2a2a2a" stroke-width="1.2"/>
<text x="318.3" y="530.4" font-size="11" fill="#161616" stroke="#161616" stroke-width="0.1">15</text>
<line x1="343.96" y1="516.6" x2="343.96" y2="519.2" stroke="#2a2a2a" stroke-width="1.2"/>
<text x="337.79" y="530.4" font-size="11" fill="#161616" stroke="#161616" stroke-width="0.1">20</text>
<line x1="363.32" y1="516.6" x2="363.32" y2="519.2" stroke="#2a2a2a" stroke-width="1.2"/>
<text x="357.16" y="530.4" font-size="11" fill="#161616" stroke="#161616" stroke-width="0.1">25</text>
<line x1="382.69" y1="516.6" x2="382.69" y2="519.2" stroke="#2a2a2a" stroke-width="1.2"/>
<text x="376.58" y="530.4" font-size="11" fill="#161616" stroke="#161616" stroke-width="0.1">30</text>
<line x1="402.06" y1="516.6" x2="402.06" y2="519.2" stroke="#2a2a2a" stroke-width="1.2"/>
<text x="395.96" y="530.4" font-size="11" fill="#161616" stroke="#161616" stroke-width="0.1">35</text>
<line x1="421.42" y1="516.6" x2="421.42" y2="519.2" stroke="#2a2a2a" stroke-width="1.2"/>
<text x="415.4" y="530.4" font-size="11" fill="#161616" stroke="#161616" stroke-width="0.1">40</text>
<line x1="440.78" y1="516.6" x2="440.78" y2="519.2" stroke="#2a2a2a" stroke-width="1.2"/>
<text x="434.78" y="530.4" font-size="11" fill="#161616" stroke="#161616" stroke-width="0.1">45</text>
<polyline points="293.61,516.6 305.23,511.3 312.98,506.66 320.72,500.85 332.34,493.89 343.96,488.42 359.45,499.36 371.07,495.55 390.44,515.77 402.06,516.6 413.67,516.6 429.17,516.6" fill="none" stroke="#b026e6" stroke-width="1.2" stroke-linejoin="round"/>
<rect x="291.91" y="514.9" width="3.4" height="3.4" fill="#b026e6"/>
<rect x="303.53" y="509.6" width="3.4" height="3.4" fill="#b026e6"/>
<rect x="311.28" y="504.96" width="3.4" height="3.4" fill="#b026e6"/>
<rect x="319.02" y="499.15" width="3.4" height="3.4" fill="#b026e6"/>
<rect x="330.64" y="492.19" width="3.4" height="3.4" fill="#b026e6"/>
<line x1="343.96" y1="490.58" x2="343.96" y2="486.27" stroke="#b026e6" stroke-width="1.1"/>
<line x1="342.16" y1="490.58" x2="345.76" y2="490.58" stroke="#b026e6" stroke-width="1.1"/>
<line x1="342.16" y1="486.27" x2="345.76" y2="486.27" stroke="#b026e6" stroke-width="1.1"/>
<rect x="342.26" y="486.72" width="3.4" height="3.4" fill="#b026e6"/>
<line x1="359.45" y1="507.98" x2="359.45" y2="490.74" stroke="#b026e6" stroke-width="1.1"/>
<line x1="357.65" y1="507.98" x2="361.25" y2="507.98" stroke="#b026e6" stroke-width="1.1"/>
<line x1="357.65" y1="490.74" x2="361.25" y2="490.74" stroke="#b026e6" stroke-width="1.1"/>
<rect x="357.75" y="497.66" width="3.4" height="3.4" fill="#b026e6"/>
<line x1="371.07" y1="508.15" x2="371.07" y2="482.95" stroke="#b026e6" stroke-width="1.1"/>
<line x1="369.27" y1="508.15" x2="372.87" y2="508.15" stroke="#b026e6" stroke-width="1.1"/>
<line x1="369.27" y1="482.95" x2="372.87" y2="482.95" stroke="#b026e6" stroke-width="1.1"/>
<rect x="369.37" y="493.85" width="3.4" height="3.4" fill="#b026e6"/>
<rect x="388.74" y="514.07" width="3.4" height="3.4" fill="#b026e6"/>
<rect x="400.36" y="514.9" width="3.4" height="3.4" fill="#b026e6"/>
<rect x="411.97" y="514.9" width="3.4" height="3.4" fill="#b026e6"/>
<rect x="427.47" y="514.9" width="3.4" height="3.4" fill="#b026e6"/>
<polyline points="293.61,516.6 305.23,511.46 312.98,509.14 320.72,500.85 332.34,493.89 343.96,476.49 359.45,410.35" fill="none" stroke="#1a1a1a" stroke-width="1.1" stroke-linejoin="round"/>
<circle cx="293.61" cy="516.6" r="1.9" fill="#1a1a1a"/>
<circle cx="305.23" cy="511.46" r="1.9" fill="#1a1a1a"/>
<circle cx="312.98" cy="509.14" r="1.9" fill="#1a1a1a"/>
<circle cx="320.72" cy="500.85" r="1.9" fill="#1a1a1a"/>
<circle cx="332.34" cy="493.89" r="1.9" fill="#1a1a1a"/>
<line x1="343.96" y1="478.48" x2="343.96" y2="474.5" stroke="#1a1a1a" stroke-width="1"/>
<line x1="342.46" y1="478.48" x2="345.46" y2="478.48" stroke="#1a1a1a" stroke-width="1"/>
<line x1="342.46" y1="474.5" x2="345.46" y2="474.5" stroke="#1a1a1a" stroke-width="1"/>
<circle cx="343.96" cy="476.49" r="1.9" fill="#1a1a1a"/>
<circle cx="359.45" cy="410.35" r="1.9" fill="#1a1a1a"/>
<line x1="272.8" y1="391.4" x2="281.9" y2="391.4" stroke="#1a1a1a" stroke-width="1"/>
<circle cx="277.4" cy="391.4" r="1.8" fill="#1a1a1a"/>
<text x="287.02" y="394.6" font-size="8.3" fill="#161616" stroke="#161616" stroke-width="0.1">PBS + IgG2a control</text>
<line x1="271.9" y1="411.1" x2="281.9" y2="411.1" stroke="#b026e6" stroke-width="1.1"/>
<rect x="275.3" y="409.4" width="3.4" height="3.4" fill="#b026e6"/>
<text x="286.85" y="409.1" font-size="8.3" fill="#a61ee0" stroke="#a61ee0" stroke-width="0.1">c-di-GMP</text>
<text x="286.81" y="418" font-size="8.3" fill="#a61ee0" stroke="#a61ee0" stroke-width="0.1">+ anti-PD-1</text>
<text x="341.3" y="545.9" font-size="10.9" fill="#161616" stroke="#161616" stroke-width="0.1">Days</text>
<text transform="translate(244.9,448.6) rotate(-90)" font-size="10.9" fill="#161616" stroke="#161616" stroke-width="0.1" text-anchor="middle">Tumor Volume (mm<tspan font-size="7.63" dy="-4.36">3</tspan><tspan dy="4.36">)</tspan></text>
<text x="455.36" y="375.8" font-size="16" fill="#1a1a1a" stroke="#1a1a1a" stroke-width="0.1">f</text>
<line x1="501.7" y1="384.4" x2="501.7" y2="516.9" stroke="#8a8a8a" stroke-width="1.8"/>
<line x1="501.1" y1="516.3" x2="677.99" y2="516.3" stroke="#222" stroke-width="1.3"/>
<line x1="499" y1="516.3" x2="501.7" y2="516.3" stroke="#2a2a2a" stroke-width="1.2"/>
<text x="491.91" y="520" font-size="11" fill="#161616" stroke="#161616" stroke-width="0.1">0</text>
<line x1="499" y1="489.98" x2="501.7" y2="489.98" stroke="#2a2a2a" stroke-width="1.2"/>
<text x="485.8" y="493.68" font-size="11" fill="#161616" stroke="#161616" stroke-width="0.1">20</text>
<line x1="499" y1="463.66" x2="501.7" y2="463.66" stroke="#2a2a2a" stroke-width="1.2"/>
<text x="485.8" y="467.36" font-size="11" fill="#161616" stroke="#161616" stroke-width="0.1">40</text>
<line x1="499" y1="437.34" x2="501.7" y2="437.34" stroke="#2a2a2a" stroke-width="1.2"/>
<text x="485.8" y="441.04" font-size="11" fill="#161616" stroke="#161616" stroke-width="0.1">60</text>
<line x1="499" y1="411.02" x2="501.7" y2="411.02" stroke="#2a2a2a" stroke-width="1.2"/>
<text x="485.8" y="414.72" font-size="11" fill="#161616" stroke="#161616" stroke-width="0.1">80</text>
<line x1="499" y1="384.7" x2="501.7" y2="384.7" stroke="#2a2a2a" stroke-width="1.2"/>
<text x="479.67" y="388.4" font-size="11" fill="#161616" stroke="#161616" stroke-width="0.1">100</text>
<line x1="501.7" y1="516.3" x2="501.7" y2="518.9" stroke="#2a2a2a" stroke-width="1.2"/>
<text x="498.63" y="530.5" font-size="11" fill="#161616" stroke="#161616" stroke-width="0.1">0</text>
<line x1="521.25" y1="516.3" x2="521.25" y2="518.9" stroke="#2a2a2a" stroke-width="1.2"/>
<text x="518.2" y="530.5" font-size="11" fill="#161616" stroke="#161616" stroke-width="0.1">5</text>
<line x1="540.81" y1="516.3" x2="540.81" y2="518.9" stroke="#2a2a2a" stroke-width="1.2"/>
<text x="534.5" y="530.5" font-size="11" fill="#161616" stroke="#161616" stroke-width="0.1">10</text>
<line x1="560.37" y1="516.3" x2="560.37" y2="518.9" stroke="#2a2a2a" stroke-width="1.2"/>
<text x="554.07" y="530.5" font-size="11" fill="#161616" stroke="#161616" stroke-width="0.1">15</text>
<line x1="579.92" y1="516.3" x2="579.92" y2="518.9" stroke="#2a2a2a" stroke-width="1.2"/>
<text x="573.75" y="530.5" font-size="11" fill="#161616" stroke="#161616" stroke-width="0.1">20</text>
<line x1="599.48" y1="516.3" x2="599.48" y2="518.9" stroke="#2a2a2a" stroke-width="1.2"/>
<text x="593.32" y="530.5" font-size="11" fill="#161616" stroke="#161616" stroke-width="0.1">25</text>
<line x1="619.03" y1="516.3" x2="619.03" y2="518.9" stroke="#2a2a2a" stroke-width="1.2"/>
<text x="612.92" y="530.5" font-size="11" fill="#161616" stroke="#161616" stroke-width="0.1">30</text>
<line x1="638.59" y1="516.3" x2="638.59" y2="518.9" stroke="#2a2a2a" stroke-width="1.2"/>
<text x="632.49" y="530.5" font-size="11" fill="#161616" stroke="#161616" stroke-width="0.1">35</text>
<line x1="658.14" y1="516.3" x2="658.14" y2="518.9" stroke="#2a2a2a" stroke-width="1.2"/>
<text x="652.12" y="530.5" font-size="11" fill="#161616" stroke="#161616" stroke-width="0.1">40</text>
<line x1="677.69" y1="516.3" x2="677.69" y2="518.9" stroke="#2a2a2a" stroke-width="1.2"/>
<text x="671.69" y="530.5" font-size="11" fill="#161616" stroke="#161616" stroke-width="0.1">45</text>
<polyline points="501.7,385.6 607.3,385.6 607.3,417.6 626.85,417.6 626.85,434.05 665.96,434.05" fill="none" stroke="#b026e6" stroke-width="1.3" stroke-linejoin="round" stroke-linejoin="miter"/>
<polyline points="501.7,384.6 587.74,384.6 587.74,463.66 595.56,463.66 595.56,516.3" fill="none" stroke="#2a2a2a" stroke-width="1.3" stroke-linejoin="round" stroke-linejoin="miter"/>
<line x1="665.96" y1="434.05" x2="665.96" y2="432.25" stroke="#b026e6" stroke-width="1"/>
<line x1="604.3" y1="474.5" x2="613.6" y2="474.5" stroke="#2a2a2a" stroke-width="1.1"/>
<line x1="609" y1="472.8" x2="609" y2="474.5" stroke="#2a2a2a" stroke-width="1"/>
<text x="618.52" y="472.4" font-size="8.3" fill="#161616" stroke="#161616" stroke-width="0.1">PBS +</text>
<text x="618.43" y="481.7" font-size="8.3" fill="#161616" stroke="#161616" stroke-width="0.1">IgG2a control</text>
<line x1="605" y1="500.3" x2="614.6" y2="500.3" stroke="#b026e6" stroke-width="1.2"/>
<line x1="609.8" y1="498.6" x2="609.8" y2="500.3" stroke="#b026e6" stroke-width="1"/>
<text x="618.85" y="498.5" font-size="8.3" fill="#a61ee0" stroke="#a61ee0" stroke-width="0.1">c-di-GMP +</text>
<text x="618.85" y="507.8" font-size="8.3" fill="#a61ee0" stroke="#a61ee0" stroke-width="0.1">anti-PD-1</text>
<polyline points="671.3,474.9 673.8,474.9 673.8,501 671.3,501" fill="none" stroke="#333" stroke-width="1.1" stroke-linejoin="round" stroke-linejoin="miter"/>
<ellipse cx="677.7" cy="483.1" rx="0.9" ry="1.0" fill="#222"/>
<ellipse cx="677.7" cy="486.1" rx="0.9" ry="1.0" fill="#222"/>
<ellipse cx="677.7" cy="489.1" rx="0.9" ry="1.0" fill="#222"/>
<ellipse cx="677.7" cy="492.1" rx="0.9" ry="1.0" fill="#222"/>
<text x="541" y="545.2" font-size="10.9" fill="#161616" stroke="#161616" stroke-width="0.1">Follow up time (day)</text>
<text transform="translate(475.4,448) rotate(-90)" font-size="10.9" fill="#161616" stroke="#161616" stroke-width="0.1" text-anchor="middle">Survival (%)</text>
</svg>
</body></html>
